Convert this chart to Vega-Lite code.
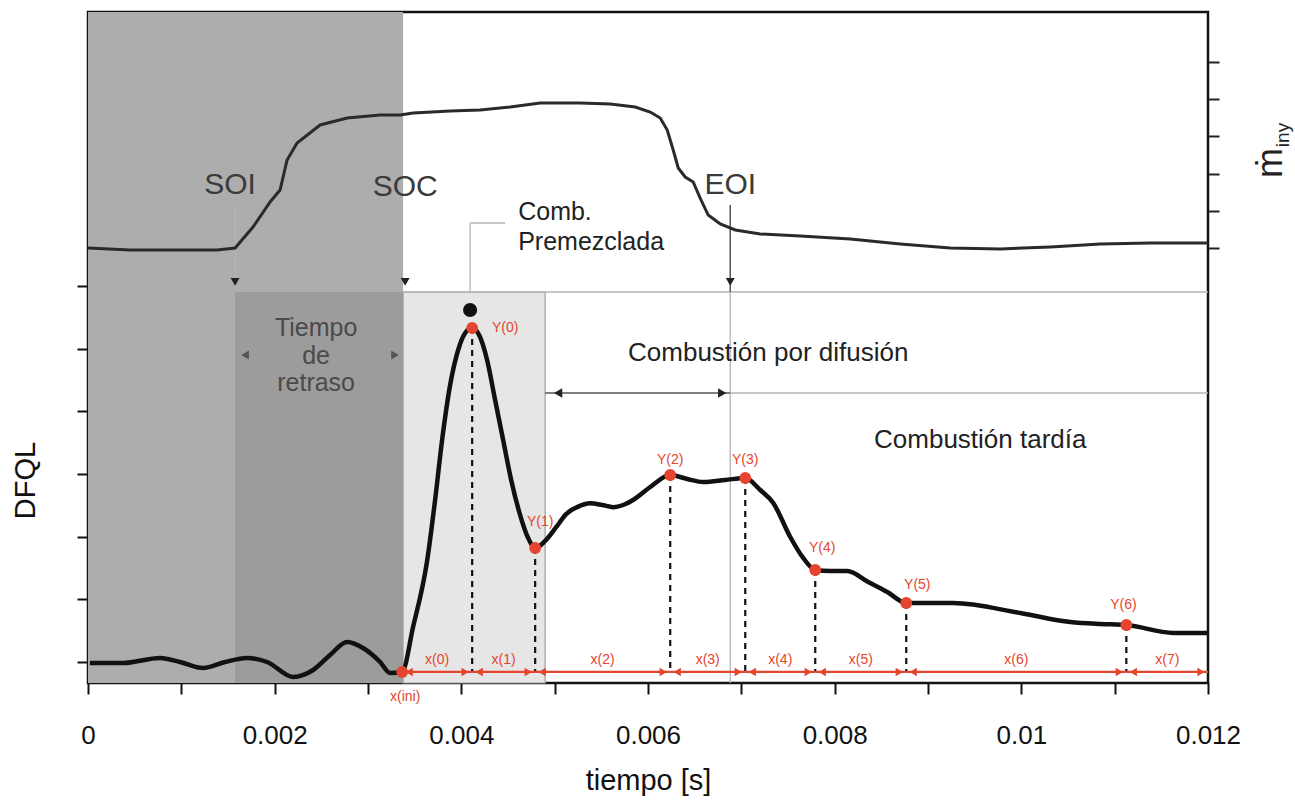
{
  "$schema": "https://vega.github.io/schema/vega-lite/v6.json",
  "width": 1120,
  "height": 671,
  "autosize": "none",
  "padding": {"left": 88, "top": 12, "right": 87, "bottom": 119},
  "background": "white",
  "config": {"view": {"stroke": "#111", "strokeWidth": 2.5}, "font": "Liberation Sans"},
  "resolve": {"axis": {"y": "independent", "x": "independent"}},
  "datasets": {
    "zones": [
      {"zone": "inyeccion", "t1": 0, "t2": 0.003376, "v1": -0.335, "v2": 10.367},
      {"zone": "retraso", "t1": 0.001576, "t2": 0.003376, "v1": -0.335, "v2": 5.901},
      {"zone": "premezcla", "t1": 0.003376, "t2": 0.004898, "v1": -0.335, "v2": 5.901}
    ],
    "guides": [
      {"kind": "light", "t1": 0.003376, "t2": 0.012, "v1": 5.901, "v2": 5.901},
      {"kind": "light", "t1": 0.006881, "t2": 0.012, "v1": 4.29, "v2": 4.29},
      {"kind": "dark", "t1": 0.004898, "t2": 0.006881, "v1": 4.29, "v2": 4.29},
      {"kind": "dark", "t1": 0.006881, "t2": 0.006881, "v1": 7.289, "v2": 5.901},
      {"kind": "light", "t1": 0.006881, "t2": 0.006881, "v1": 5.901, "v2": -0.335},
      {"kind": "light", "t1": 0.001576, "t2": 0.001576, "v1": 7.289, "v2": 6.1},
      {"kind": "light", "t1": 0.004094, "t2": 0.004094, "v1": 7.002, "v2": 5.901},
      {"kind": "light", "t1": 0.004094, "t2": 0.00447, "v1": 7.002, "v2": 7.002}
    ],
    "miny": [
      {"t": 0, "v": 6.603}, {"t": 0.00045, "v": 6.571}, {"t": 0.000932, "v": 6.571},
      {"t": 0.001383, "v": 6.571}, {"t": 0.001576, "v": 6.603}, {"t": 0.001768, "v": 6.938},
      {"t": 0.001951, "v": 7.337}, {"t": 0.002058, "v": 7.528}, {"t": 0.002133, "v": 8.006},
      {"t": 0.00224, "v": 8.278}, {"t": 0.002487, "v": 8.565}, {"t": 0.002776, "v": 8.676},
      {"t": 0.00313, "v": 8.724}, {"t": 0.003344, "v": 8.724}, {"t": 0.003483, "v": 8.756},
      {"t": 0.00388, "v": 8.788}, {"t": 0.004201, "v": 8.804}, {"t": 0.004523, "v": 8.852},
      {"t": 0.004845, "v": 8.915}, {"t": 0.005273, "v": 8.915}, {"t": 0.005595, "v": 8.9},
      {"t": 0.005863, "v": 8.852}, {"t": 0.006024, "v": 8.772}, {"t": 0.006131, "v": 8.676},
      {"t": 0.006206, "v": 8.485}, {"t": 0.00627, "v": 8.166}, {"t": 0.006324, "v": 7.879},
      {"t": 0.006399, "v": 7.735}, {"t": 0.006484, "v": 7.656}, {"t": 0.006559, "v": 7.4},
      {"t": 0.006645, "v": 7.129}, {"t": 0.006774, "v": 6.986}, {"t": 0.006935, "v": 6.89},
      {"t": 0.007203, "v": 6.826}, {"t": 0.007631, "v": 6.794}, {"t": 0.008167, "v": 6.746},
      {"t": 0.008703, "v": 6.667}, {"t": 0.009239, "v": 6.603}, {"t": 0.009775, "v": 6.587},
      {"t": 0.010311, "v": 6.619}, {"t": 0.010847, "v": 6.667}, {"t": 0.011383, "v": 6.683},
      {"t": 0.012, "v": 6.683}
    ],
    "dfql": [
      {"t": 0.00002, "v": -0.016}, {"t": 0.000375, "v": -0.016}, {"t": 0.000772, "v": 0.064},
      {"t": 0.000986, "v": 0}, {"t": 0.001233, "v": -0.096}, {"t": 0.001468, "v": 0},
      {"t": 0.001704, "v": 0.064}, {"t": 0.001919, "v": 0}, {"t": 0.002197, "v": -0.239},
      {"t": 0.002412, "v": -0.128}, {"t": 0.002594, "v": 0.112}, {"t": 0.002776, "v": 0.319},
      {"t": 0.002947, "v": 0.223}, {"t": 0.00313, "v": 0}, {"t": 0.003237, "v": -0.175},
      {"t": 0.003365, "v": -0.159}, {"t": 0.003483, "v": 0.558}, {"t": 0.003633, "v": 1.608},
      {"t": 0.003719, "v": 2.584}, {"t": 0.003794, "v": 3.541}, {"t": 0.00388, "v": 4.418},
      {"t": 0.003966, "v": 4.976}, {"t": 0.004041, "v": 5.247}, {"t": 0.004116, "v": 5.327},
      {"t": 0.004191, "v": 5.215}, {"t": 0.004276, "v": 4.817}, {"t": 0.004362, "v": 4.179},
      {"t": 0.004448, "v": 3.541}, {"t": 0.004534, "v": 2.903}, {"t": 0.00463, "v": 2.344},
      {"t": 0.004716, "v": 1.978}, {"t": 0.004791, "v": 1.818}, {"t": 0.004898, "v": 1.93},
      {"t": 0.005016, "v": 2.15}, {"t": 0.005123, "v": 2.36}, {"t": 0.005241, "v": 2.47},
      {"t": 0.00538, "v": 2.53}, {"t": 0.005509, "v": 2.504}, {"t": 0.005627, "v": 2.47},
      {"t": 0.005734, "v": 2.504}, {"t": 0.005841, "v": 2.584}, {"t": 0.006024, "v": 2.791},
      {"t": 0.006238, "v": 2.982}, {"t": 0.00642, "v": 2.919}, {"t": 0.006592, "v": 2.871},
      {"t": 0.006827, "v": 2.903}, {"t": 0.007042, "v": 2.935}, {"t": 0.007203, "v": 2.743},
      {"t": 0.007342, "v": 2.536}, {"t": 0.007524, "v": 1.994}, {"t": 0.007663, "v": 1.659},
      {"t": 0.007792, "v": 1.467}, {"t": 0.007953, "v": 1.451}, {"t": 0.008135, "v": 1.451},
      {"t": 0.00836, "v": 1.276}, {"t": 0.008564, "v": 1.116}, {"t": 0.008767, "v": 0.941},
      {"t": 0.009271, "v": 0.941}, {"t": 0.009989, "v": 0.781}, {"t": 0.010525, "v": 0.638},
      {"t": 0.010847, "v": 0.606}, {"t": 0.011125, "v": 0.59}, {"t": 0.011629, "v": 0.463},
      {"t": 0.011993, "v": 0.463}
    ],
    "keypts": [
      {"k": "ini", "t": 0.003366, "v": -0.159},
      {"k": "Y(0)", "t": 0.004116, "v": 5.327},
      {"k": "Y(1)", "t": 0.004791, "v": 1.818},
      {"k": "Y(2)", "t": 0.006238, "v": 2.982},
      {"k": "Y(3)", "t": 0.007042, "v": 2.935},
      {"k": "Y(4)", "t": 0.007792, "v": 1.467},
      {"k": "Y(5)", "t": 0.008767, "v": 0.941},
      {"k": "Y(6)", "t": 0.011125, "v": 0.59}
    ],
    "ylab": [
      {"k": "Y(0)", "t": 0.00447, "v": 5.327},
      {"k": "Y(1)", "t": 0.004845, "v": 2.233},
      {"k": "Y(2)", "t": 0.006238, "v": 3.222},
      {"k": "Y(3)", "t": 0.007042, "v": 3.222},
      {"k": "Y(4)", "t": 0.007867, "v": 1.818},
      {"k": "Y(5)", "t": 0.008885, "v": 1.228},
      {"k": "Y(6)", "t": 0.011093, "v": 0.909},
      {"k": "x(ini)", "t": 0.003398, "v": -0.558}
    ],
    "segs": [
      {"k": "x(0)", "a": 0.003366, "b": 0.004116, "m": 0.003741},
      {"k": "x(1)", "a": 0.004116, "b": 0.004791, "m": 0.004453},
      {"k": "x(2)", "a": 0.004791, "b": 0.006238, "m": 0.005514},
      {"k": "x(3)", "a": 0.006238, "b": 0.007042, "m": 0.00664},
      {"k": "x(4)", "a": 0.007042, "b": 0.007792, "m": 0.007417},
      {"k": "x(5)", "a": 0.007792, "b": 0.008767, "m": 0.00828},
      {"k": "x(6)", "a": 0.008767, "b": 0.011125, "m": 0.009946},
      {"k": "x(7)", "a": 0.011125, "b": 0.012, "m": 0.011565}
    ],
    "pico": [{"t": 0.004094, "v": 5.614}],
    "marcas": [
      {"k": "SOI", "dir": "down", "t": 0.001576, "v": 6.061},
      {"k": "SOC", "dir": "down", "t": 0.003398, "v": 6.061},
      {"k": "EOI", "dir": "down", "t": 0.006881, "v": 6.061},
      {"k": "retraso", "dir": "left", "t": 0.001683, "v": 4.896},
      {"k": "retraso", "dir": "right", "t": 0.00329, "v": 4.896},
      {"k": "difusion", "dir": "left", "t": 0.005037, "v": 4.29},
      {"k": "difusion", "dir": "right", "t": 0.006795, "v": 4.29}
    ],
    "eventos": [
      {"txt": "SOI", "t": 0.001522, "v": 7.608},
      {"txt": "SOC", "t": 0.003398, "v": 7.576},
      {"txt": "EOI", "t": 0.006881, "v": 7.608}
    ],
    "premez": [
      {"txt": "Comb.", "t": 0.004609, "v": 7.177},
      {"txt": "Premezclada", "t": 0.004609, "v": 6.699}
    ],
    "retraso": [
      {"txt": "Tiempo", "t": 0.002444, "v": 5.327},
      {"txt": "de", "t": 0.002444, "v": 4.88},
      {"txt": "retraso", "t": 0.002444, "v": 4.45}
    ],
    "fases": [
      {"txt": "Combustión por difusión", "t": 0.007288, "v": 4.928},
      {"txt": "Combustión tardía", "t": 0.00956, "v": 3.541}
    ],
    "minylab": [
      {"txt": "ṁ", "t": 0.01268, "v": 7.959, "part": "m"},
      {"txt": "iny", "t": 0.012808, "v": 8.405, "part": "sub"}
    ]
  },
  "layer": [
    {
      "data": {"name": "zones"},
      "transform": [{"filter": "datum.zone == 'inyeccion'"}],
      "mark": {"type": "rect", "fill": "#adadad"},
      "encoding": {
        "x": {"field": "t1", "type": "quantitative", "scale": {"domain": [0, 0.012], "nice": false, "zero": false}, "axis": null},
        "x2": {"field": "t2"},
        "y": {"field": "v1", "type": "quantitative", "scale": {"domain": [-0.335, 10.367], "nice": false, "zero": false}, "axis": null},
        "y2": {"field": "v2"}
      }
    },
    {
      "data": {"name": "zones"},
      "transform": [{"filter": "datum.zone == 'retraso'"}],
      "mark": {"type": "rect", "fill": "#9c9c9c"},
      "encoding": {
        "x": {"field": "t1", "type": "quantitative", "axis": null},
        "x2": {"field": "t2"},
        "y": {"field": "v1", "type": "quantitative", "axis": null},
        "y2": {"field": "v2"}
      }
    },
    {
      "data": {"name": "zones"},
      "transform": [{"filter": "datum.zone == 'premezcla'"}],
      "mark": {"type": "rect", "fill": "#e6e6e6", "stroke": "#a0a0a0", "strokeWidth": 1.2},
      "encoding": {
        "x": {"field": "t1", "type": "quantitative", "axis": null},
        "x2": {"field": "t2"},
        "y": {"field": "v1", "type": "quantitative", "axis": null},
        "y2": {"field": "v2"}
      }
    },
    {
      "data": {"name": "guides"},
      "transform": [{"filter": "datum.kind == 'light'"}],
      "mark": {"type": "rule", "color": "#b4b4b4", "strokeWidth": 1.3},
      "encoding": {
        "x": {"field": "t1", "type": "quantitative", "axis": null},
        "x2": {"field": "t2"},
        "y": {"field": "v1", "type": "quantitative", "axis": null},
        "y2": {"field": "v2"}
      }
    },
    {
      "data": {"name": "guides"},
      "transform": [{"filter": "datum.kind == 'dark'"}],
      "mark": {"type": "rule", "color": "#555", "strokeWidth": 1.5},
      "encoding": {
        "x": {"field": "t1", "type": "quantitative", "axis": null},
        "x2": {"field": "t2"},
        "y": {"field": "v1", "type": "quantitative", "axis": null},
        "y2": {"field": "v2"}
      }
    },
    {
      "data": {"name": "miny"},
      "mark": {"type": "line", "color": "#2a2a2a", "strokeWidth": 3},
      "encoding": {
        "x": {"field": "t", "type": "quantitative", "axis": null},
        "y": {
          "field": "v", "type": "quantitative",
          "axis": {"orient": "right", "values": [6.603, 7.196, 7.789, 8.382, 8.975, 9.568], "labels": false, "title": null, "domain": false, "grid": false, "tickSize": 11, "tickWidth": 2, "tickColor": "#222"}
        }
      }
    },
    {
      "data": {"name": "keypts"},
      "transform": [{"filter": "datum.k != 'ini'"}],
      "mark": {"type": "rule", "color": "#111", "strokeWidth": 2.2, "strokeDash": [6, 5]},
      "encoding": {
        "x": {"field": "t", "type": "quantitative", "axis": null},
        "y": {"field": "v", "type": "quantitative", "axis": null},
        "y2": {"datum": -0.159}
      }
    },
    {
      "data": {"name": "dfql"},
      "mark": {"type": "line", "color": "#111", "strokeWidth": 4.5, "interpolate": "monotone"},
      "encoding": {
        "x": {
          "field": "t", "type": "quantitative",
          "axis": {
            "values": [0, 0.001, 0.002, 0.003, 0.004, 0.005, 0.006, 0.007, 0.008, 0.009, 0.01, 0.011, 0.012],
            "labelExpr": "round(datum.value * 1000) % 2 == 0 ? format(datum.value, '~g') : ''",
            "title": "tiempo [s]", "domain": false, "grid": false,
            "tickSize": 11, "tickWidth": 2, "tickColor": "#111",
            "labelFont": "Liberation Sans", "labelFontSize": 26, "labelColor": "#111", "labelPadding": 28,
            "labelFlush": false, "labelOverlap": false,
            "titleFont": "Liberation Sans", "titleFontSize": 29, "titleFontWeight": "normal", "titleColor": "#111", "titlePadding": 18
          }
        },
        "y": {
          "field": "v", "type": "quantitative",
          "axis": {
            "values": [0, 1, 2, 3, 4, 5, 6], "labels": false, "title": "DFQL", "domain": false, "grid": false,
            "tickSize": 11, "tickWidth": 2, "tickColor": "#111",
            "titleFont": "Liberation Sans", "titleFontSize": 29, "titleFontWeight": "normal", "titleColor": "#111",
            "titleAngle": 270, "titleX": -63, "titleY": 468, "titleAlign": "center", "titleBaseline": "middle"
          }
        }
      }
    },
    {
      "data": {"name": "segs"},
      "mark": {"type": "rule", "color": "#e5442e", "strokeWidth": 2.2},
      "encoding": {
        "x": {"field": "a", "type": "quantitative", "axis": null},
        "x2": {"field": "b"},
        "y": {"datum": -0.159, "type": "quantitative", "axis": null}
      }
    },
    {
      "data": {"name": "segs"},
      "mark": {"type": "point", "shape": "triangle-left", "filled": true, "color": "#e5442e", "size": 70, "opacity": 1, "xOffset": 7},
      "encoding": {
        "x": {"field": "a", "type": "quantitative", "axis": null},
        "y": {"datum": -0.159, "type": "quantitative", "axis": null}
      }
    },
    {
      "data": {"name": "segs"},
      "mark": {"type": "point", "shape": "triangle-right", "filled": true, "color": "#e5442e", "size": 70, "opacity": 1, "xOffset": -7},
      "encoding": {
        "x": {"field": "b", "type": "quantitative", "axis": null},
        "y": {"datum": -0.159, "type": "quantitative", "axis": null}
      }
    },
    {
      "data": {"name": "segs"},
      "mark": {"type": "text", "color": "#e5442e", "fontSize": 14, "baseline": "bottom", "align": "center"},
      "encoding": {
        "x": {"field": "m", "type": "quantitative", "axis": null},
        "y": {"datum": -0.08, "type": "quantitative", "axis": null},
        "text": {"field": "k"}
      }
    },
    {
      "data": {"name": "keypts"},
      "mark": {"type": "point", "filled": true, "color": "#e5442e", "size": 140, "opacity": 1},
      "encoding": {
        "x": {"field": "t", "type": "quantitative", "axis": null},
        "y": {"field": "v", "type": "quantitative", "axis": null}
      }
    },
    {
      "data": {"name": "pico"},
      "mark": {"type": "point", "filled": true, "color": "#111", "size": 200, "opacity": 1},
      "encoding": {
        "x": {"field": "t", "type": "quantitative", "axis": null},
        "y": {"field": "v", "type": "quantitative", "axis": null}
      }
    },
    {
      "data": {"name": "ylab"},
      "mark": {"type": "text", "color": "#e5442e", "fontSize": 14, "baseline": "middle", "align": "center"},
      "encoding": {
        "x": {"field": "t", "type": "quantitative", "axis": null},
        "y": {"field": "v", "type": "quantitative", "axis": null},
        "text": {"field": "k"}
      }
    },
    {
      "data": {"name": "marcas"},
      "transform": [{"filter": "datum.dir == 'down'"}],
      "mark": {"type": "point", "shape": "triangle-down", "filled": true, "color": "#222", "size": 80, "opacity": 1},
      "encoding": {
        "x": {"field": "t", "type": "quantitative", "axis": null},
        "y": {"field": "v", "type": "quantitative", "axis": null}
      }
    },
    {
      "data": {"name": "marcas"},
      "transform": [{"filter": "datum.k == 'retraso' && datum.dir == 'left'"}],
      "mark": {"type": "point", "shape": "triangle-left", "filled": true, "color": "#555", "size": 80, "opacity": 1},
      "encoding": {
        "x": {"field": "t", "type": "quantitative", "axis": null},
        "y": {"field": "v", "type": "quantitative", "axis": null}
      }
    },
    {
      "data": {"name": "marcas"},
      "transform": [{"filter": "datum.k == 'retraso' && datum.dir == 'right'"}],
      "mark": {"type": "point", "shape": "triangle-right", "filled": true, "color": "#555", "size": 80, "opacity": 1},
      "encoding": {
        "x": {"field": "t", "type": "quantitative", "axis": null},
        "y": {"field": "v", "type": "quantitative", "axis": null}
      }
    },
    {
      "data": {"name": "marcas"},
      "transform": [{"filter": "datum.k == 'difusion' && datum.dir == 'left'"}],
      "mark": {"type": "point", "shape": "triangle-left", "filled": true, "color": "#222", "size": 90, "opacity": 1},
      "encoding": {
        "x": {"field": "t", "type": "quantitative", "axis": null},
        "y": {"field": "v", "type": "quantitative", "axis": null}
      }
    },
    {
      "data": {"name": "marcas"},
      "transform": [{"filter": "datum.k == 'difusion' && datum.dir == 'right'"}],
      "mark": {"type": "point", "shape": "triangle-right", "filled": true, "color": "#222", "size": 90, "opacity": 1},
      "encoding": {
        "x": {"field": "t", "type": "quantitative", "axis": null},
        "y": {"field": "v", "type": "quantitative", "axis": null}
      }
    },
    {
      "data": {"name": "eventos"},
      "mark": {"type": "text", "font": "Liberation Sans", "fontSize": 30, "color": "#3a3a3a", "align": "center", "baseline": "middle"},
      "encoding": {
        "x": {"field": "t", "type": "quantitative", "axis": null},
        "y": {"field": "v", "type": "quantitative", "axis": null},
        "text": {"field": "txt"}
      }
    },
    {
      "data": {"name": "premez"},
      "mark": {"type": "text", "font": "Liberation Sans", "fontSize": 25, "color": "#222", "align": "left", "baseline": "middle"},
      "encoding": {
        "x": {"field": "t", "type": "quantitative", "axis": null},
        "y": {"field": "v", "type": "quantitative", "axis": null},
        "text": {"field": "txt"}
      }
    },
    {
      "data": {"name": "retraso"},
      "mark": {"type": "text", "font": "Liberation Sans", "fontSize": 25, "color": "#4a4a4a", "align": "center", "baseline": "middle"},
      "encoding": {
        "x": {"field": "t", "type": "quantitative", "axis": null},
        "y": {"field": "v", "type": "quantitative", "axis": null},
        "text": {"field": "txt"}
      }
    },
    {
      "data": {"name": "fases"},
      "mark": {"type": "text", "font": "Liberation Sans", "fontSize": 26, "color": "#222", "align": "center", "baseline": "middle"},
      "encoding": {
        "x": {"field": "t", "type": "quantitative", "axis": null},
        "y": {"field": "v", "type": "quantitative", "axis": null},
        "text": {"field": "txt"}
      }
    },
    {
      "data": {"name": "minylab"},
      "transform": [{"filter": "datum.part == 'm'"}],
      "mark": {"type": "text", "font": "Liberation Sans", "fontSize": 36, "color": "#222", "align": "center", "baseline": "middle", "angle": 270},
      "encoding": {
        "x": {"field": "t", "type": "quantitative", "axis": null},
        "y": {"field": "v", "type": "quantitative", "axis": null},
        "text": {"field": "txt"}
      }
    },
    {
      "data": {"name": "minylab"},
      "transform": [{"filter": "datum.part == 'sub'"}],
      "mark": {"type": "text", "font": "Liberation Sans", "fontSize": 19, "color": "#222", "align": "center", "baseline": "middle", "angle": 270},
      "encoding": {
        "x": {"field": "t", "type": "quantitative", "axis": null},
        "y": {"field": "v", "type": "quantitative", "axis": null},
        "text": {"field": "txt"}
      }
    }
  ]
}
